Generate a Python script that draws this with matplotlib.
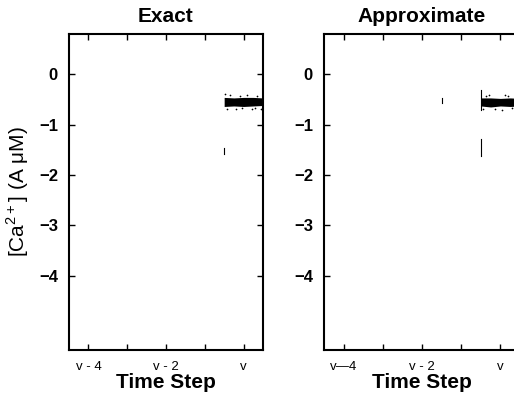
import matplotlib
matplotlib.use("Agg")
import matplotlib.pyplot as plt

plt.rcParams['font.family'] = ['Liberation Sans', 'DejaVu Sans']
plt.rcParams['mathtext.fontset'] = 'custom'
plt.rcParams['mathtext.rm'] = 'Liberation Sans'

# time steps relative to the current step v
tick_pos = [-4, -3, -2, -1, 0]
tick_labels_exact = ['v - 4', '', 'v - 2', '', 'v']
tick_labels_approx = ['v\u20144', '', 'v - 2', '', 'v']
y_ticks = [0, -1, -2, -3, -4]

# dense calcium trace during step v (core band and sparse fringe)
exact_t = [-0.5, -0.25, 0.0, 0.25, 0.5]
exact_hi = [-0.46, -0.47, -0.46, -0.46, -0.47]
exact_lo = [-0.64, -0.63, -0.64, -0.63, -0.62]
exact_fringe_t = [-0.48, -0.35, -0.2, -0.05, 0.1, 0.22, 0.35, 0.45, -0.42, -0.1, 0.3]
exact_fringe_y = [-0.40, -0.42, -0.70, -0.68, -0.41, -0.69, -0.43, -0.70, -0.69, -0.43, -0.67]
# isolated samples drawn as short vertical strokes: (t, y_top, y_bottom)
exact_strokes = [(-0.5, -1.46, -1.58)]

approx_t = [-0.5, -0.25, 0.0, 0.25, 0.5]
approx_hi = [-0.47, -0.47, -0.48, -0.47, -0.48]
approx_lo = [-0.63, -0.65, -0.63, -0.64, -0.63]
approx_fringe_t = [-0.45, -0.3, -0.15, 0.05, 0.2, 0.3, 0.42, -0.38, 0.12]
approx_fringe_y = [-0.70, -0.42, -0.69, -0.71, -0.43, -0.68, -0.72, -0.44, -0.41]
approx_strokes = [(-0.5, -0.32, -0.72), (-1.5, -0.48, -0.58), (-0.5, -1.28, -1.62)]


def draw_panel(ax, t, hi, lo, fr_t, fr_y, strokes, title, xlabels):
    ax.fill_between(t, lo, hi, color='black', linewidth=0)
    ax.scatter(fr_t, fr_y, s=1.5, color='black', linewidths=0)
    for x, y0, y1 in strokes:
        ax.plot([x, x], [y0, y1], color='black', linewidth=0.8)
    ax.set_xlim(-4.5, 0.5)
    ax.set_ylim(-5.48, 0.8)
    ax.set_xticks(tick_pos)
    ax.set_xticklabels(xlabels, fontsize=9.5)
    ax.set_yticks(y_ticks)
    ax.set_yticklabels(['0', '\u22121', '\u22122', '\u22123', '\u22124'],
                       fontsize=12, fontweight='bold')
    ax.tick_params(direction='in', length=4, width=1, top=True, right=True, pad=8)
    for s in ax.spines.values():
        s.set_linewidth(1.5)
    ax.set_title(title, fontsize=15, fontweight='bold', pad=9)
    ax.set_xlabel('Time Step', fontsize=15, fontweight='bold', labelpad=0)


fig = plt.figure(figsize=(5.14, 4.03), dpi=100)
ax1 = fig.add_axes([0.1342, 0.1315, 0.3774, 0.7841])
ax2 = fig.add_axes([0.6304, 0.1315, 0.3813, 0.7841])

draw_panel(ax1, exact_t, exact_hi, exact_lo, exact_fringe_t, exact_fringe_y,
           exact_strokes, 'Exact', tick_labels_exact)
draw_panel(ax2, approx_t, approx_hi, approx_lo, approx_fringe_t, approx_fringe_y,
           approx_strokes, 'Approximate', tick_labels_approx)

ax1.set_ylabel('[Ca$^{2+}$] (A \u03bcM)', fontsize=15, labelpad=6)

fig.savefig('out.png', dpi=100)
